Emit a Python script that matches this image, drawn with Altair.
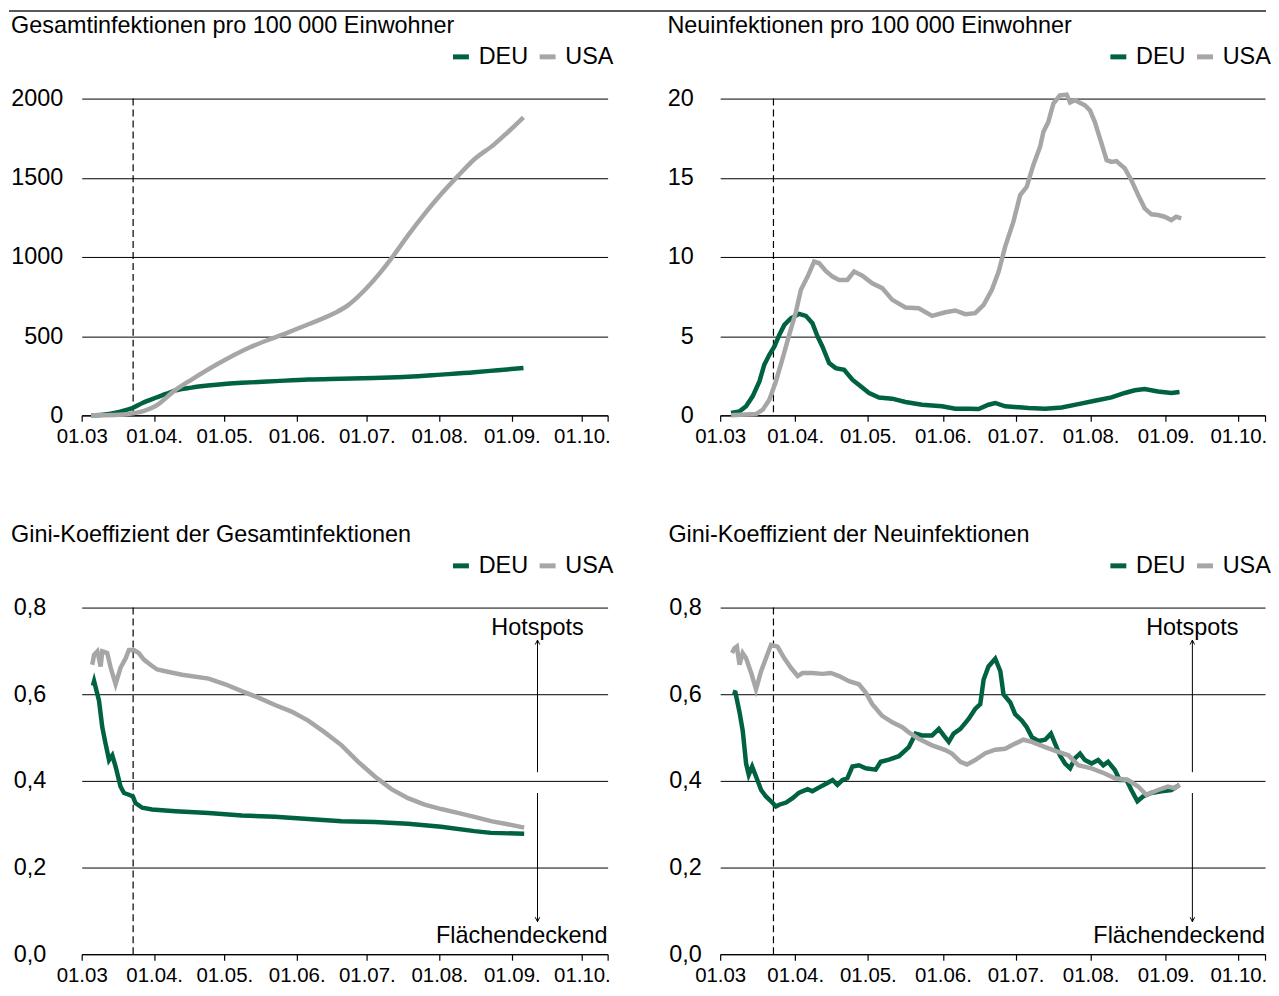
import altair as alt
import pandas as pd

START = pd.Timestamp("2020-03-01")
X_DOMAIN = ["2020-03-01", "2020-10-12"]
LOCKDOWN = ["2020-03-23"]

x_tick_dates = ["2020-03-01", "2020-04-01", "2020-05-01", "2020-06-01", "2020-07-01",
                "2020-08-01", "2020-09-01", "2020-10-01", "2020-10-12"]
x_tick_labels = ["01.03", "01.04.", "01.05.", "01.06.", "01.07.", "01.08.", "01.09.", "01.10.", ""]

countries = ["DEU", "USA"]
colors = ["#00623F", "#A6A6A6"]

titles = ["Gesamtinfektionen pro 100 000 Einwohner", "Neuinfektionen pro 100 000 Einwohner",
          "Gini-Koeffizient der Gesamtinfektionen", "Gini-Koeffizient der Neuinfektionen"]

y_ticks_total = [0, 500, 1000, 1500, 2000]
y_ticks_new = [0, 5, 10, 15, 20]
y_ticks_gini = [0.0, 0.2, 0.4, 0.6, 0.8]

# days after 01.03.2020
deu_total_day = [4, 9, 14.5, 18, 22, 26, 31.6, 36, 40, 47, 54, 61, 68.5, 83, 97, 111, 125, 139.6, 153.8, 168, 178, 189]
deu_total = [0, 4, 17, 30, 48, 78, 111, 135, 157, 175, 188, 198, 205, 216, 226, 231, 236, 243, 257, 272, 285, 299]
usa_total_day = [4, 14, 22, 27, 31.6, 40, 47, 61.4, 71.3, 85.6, 97, 108, 114, 121, 128, 134, 139.6, 146.7, 153.8, 161, 168, 176.5, 182, 189]
usa_total = [0, 2, 13, 30, 59, 159, 226, 351, 425, 508, 575, 644, 696, 790, 906, 1021, 1136, 1272, 1397, 1512, 1617, 1711, 1784, 1882]

deu_new_day = [4.5, 8, 10.7, 13.4, 16.2, 18.2, 20.3, 22.4, 24.4, 26.5, 29.2, 32.6, 35.4, 38.1, 40.2, 42.2, 45, 47.7,
               51.2, 54.6, 58, 61.5, 65.6, 71, 76.5, 83.4, 91.6, 97.1, 102.6, 106.7, 110.8, 113.6, 117.7, 127.3,
               134.2, 141, 147.9, 154.7, 161.6, 167.1, 171.2, 175.3, 180.8, 186.3, 189.7]
deu_new = [0.15, 0.25, 0.57, 1.2, 2.14, 3.19, 3.82, 4.35, 5.08, 5.71, 6.13, 6.41, 6.28, 5.82, 4.98, 4.35, 3.3, 2.98,
           2.88, 2.25, 1.83, 1.41, 1.13, 1.05, 0.84, 0.67, 0.57, 0.42, 0.42, 0.40, 0.67, 0.78, 0.57, 0.46,
           0.42, 0.50, 0.71, 0.92, 1.13, 1.41, 1.58, 1.66, 1.51, 1.41, 1.47]
usa_new_day = [4.5, 14.8, 17.6, 20.3, 23, 25.8, 28.5, 31.3, 33.3, 36.1, 38.8, 40.9, 43.6, 46.4, 49.1, 52.5, 55.3,
               58.7, 62.8, 66.9, 71.1, 76.5, 82, 87.5, 93, 97.1, 101.2, 105.3, 108.8, 112.2, 115, 117.7, 121.1,
               123.9, 126.6, 129.3, 132.1, 133.5, 135.5, 137.6, 140.3, 143.1, 144.5, 146.5, 150.6, 152.7, 154.7,
               157.5, 159.6, 161.6, 163.6, 167.1, 169.8, 172.6, 175.3, 178.1, 180.8, 183.5, 186.3, 188.3, 190.4]
usa_new = [0, 0.08, 0.36, 0.99, 2.14, 3.61, 5.08, 6.55, 7.92, 8.76, 9.71, 9.6, 9.12, 8.76, 8.55, 8.55, 9.08,
           8.82, 8.34, 8.03, 7.29, 6.81, 6.76, 6.28, 6.51, 6.62, 6.39, 6.45, 6.97, 7.92, 9.08, 10.65, 12.23,
           13.91, 14.43, 15.8, 16.95, 17.9, 18.53, 19.68, 20.2, 20.25, 19.75, 19.9, 19.58, 19.26, 18.53,
           17.16, 16.11, 16.0, 16.05, 15.59, 14.85, 13.91, 13.07, 12.69, 12.65, 12.54, 12.33, 12.54, 12.44]

deu_gini_total_day = [4.8, 5.3, 7.4, 8.8, 10.2, 11.7, 13.1, 14.5, 16.6, 18.1, 20.2, 21.9, 23, 25.9, 30.1, 40.1,
                      54.3, 68.5, 82.7, 96.9, 111.2, 125.4, 139.6, 153.8, 168, 175.1, 189.3]
deu_gini_total = [0.62, 0.63, 0.585, 0.524, 0.486, 0.448, 0.459, 0.433, 0.387, 0.372, 0.368, 0.364, 0.349, 0.338,
                  0.334, 0.330, 0.326, 0.320, 0.317, 0.312, 0.307, 0.305, 0.301, 0.294, 0.284, 0.280, 0.278]
usa_gini_total_day = [4.5, 5.3, 6.7, 8.1, 8.8, 10.9, 12.4, 14.5, 16.6, 18.8, 20.2, 22.3, 24.4, 26.6, 29.4, 32.3,
                      35.8, 42.9, 54.3, 61.4, 68.5, 75.6, 82.7, 89.8, 96.9, 104, 111.2, 118.3, 125.4, 132.5,
                      139.6, 146.7, 153.8, 160.9, 168, 175.1, 182.2, 189.3]
usa_gini_total = [0.668, 0.691, 0.699, 0.664, 0.699, 0.695, 0.661, 0.623, 0.661, 0.683, 0.702, 0.702, 0.695,
                  0.680, 0.668, 0.657, 0.653, 0.645, 0.636, 0.623, 0.607, 0.592, 0.575, 0.560, 0.539, 0.512,
                  0.482, 0.444, 0.410, 0.381, 0.360, 0.345, 0.335, 0.326, 0.317, 0.307, 0.300, 0.292]

deu_gini_new_day = [5.2, 6.3, 8, 9.3, 10.7, 11.8, 13.2, 14.8, 16.9, 18.9, 21.7, 23, 24.4, 27.2, 29.9, 32.6, 36.1,
                    38.1, 40.9, 44.3, 46.4, 48.4, 50.5, 52.5, 54.6, 57.3, 60.1, 64.2, 66.3, 69.7, 73.8, 77.9,
                    80.7, 83.4, 87.5, 90.3, 92.3, 94.4, 96.4, 99.2, 102.6, 105.3, 107.4, 108.8, 110.8, 113.6,
                    115.7, 117, 119.8, 121.8, 124.6, 126.6, 128.7, 131.4, 134.2, 136.6, 138.3, 140.3, 142.4,
                    144.5, 146.5, 148.6, 150.6, 153.4, 156.1, 158.2, 160.2, 163, 165, 167.8, 169.8, 172.3,
                    174.6, 178, 182.2, 186.3, 189.7]
deu_gini_new = [0.606, 0.604, 0.558, 0.516, 0.440, 0.414, 0.433, 0.410, 0.379, 0.364, 0.349, 0.341, 0.345,
                0.350, 0.360, 0.373, 0.381, 0.376, 0.385, 0.395, 0.402, 0.391, 0.402, 0.406, 0.433, 0.436,
                0.429, 0.426, 0.444, 0.449, 0.457, 0.478, 0.509, 0.505, 0.505, 0.520, 0.505, 0.490, 0.509,
                0.520, 0.543, 0.566, 0.577, 0.634, 0.664, 0.682, 0.653, 0.600, 0.581, 0.554, 0.539, 0.524,
                0.501, 0.492, 0.495, 0.509, 0.486, 0.459, 0.440, 0.429, 0.452, 0.463, 0.448, 0.440, 0.448,
                0.436, 0.444, 0.425, 0.402, 0.402, 0.379, 0.353, 0.364, 0.372, 0.376, 0.379, 0.391]
usa_gini_new_day = [4.9, 5.9, 6.9, 8, 9.3, 10.7, 12.8, 14.8, 16.9, 18.9, 21, 23.7, 26.5, 29.2, 32, 34, 38.1,
                    42.2, 45.7, 49.1, 53.2, 57.3, 60.1, 62.8, 66.9, 71.1, 75.2, 77.9, 82, 87.5, 93, 95.7, 99.2,
                    101.9, 105.3, 109.5, 113.6, 117.7, 121.8, 125.2, 128.7, 134.2, 139.6, 143.8, 147.9, 153.4,
                    158.8, 163, 168.4, 172.6, 176, 180.8, 184.9, 187.7, 189.7]
usa_gini_new = [0.695, 0.706, 0.710, 0.668, 0.695, 0.683, 0.649, 0.611, 0.653, 0.683, 0.714, 0.710, 0.683,
                0.661, 0.642, 0.649, 0.649, 0.647, 0.649, 0.642, 0.630, 0.623, 0.604, 0.577, 0.550, 0.535,
                0.524, 0.512, 0.497, 0.482, 0.471, 0.463, 0.444, 0.438, 0.448, 0.464, 0.472, 0.474, 0.486,
                0.495, 0.490, 0.478, 0.467, 0.459, 0.436, 0.429, 0.417, 0.406, 0.402, 0.387, 0.368, 0.379,
                0.387, 0.383, 0.391]

arrow_date = "2020-09-12"
arrow_up = [0.42, 0.725]
arrow_down = [0.372, 0.075]
label_hot = ["Hotspots", 0.753]
label_flat = ["Flächendeckend", 0.043]

FONT = "Liberation Sans"
FS = 23.5


def series(day_list, vals, country):
    return pd.DataFrame({"date": START + pd.to_timedelta(day_list, unit="D"),
                         "value": vals, "country": country})


def dt(s):
    t = pd.Timestamp(s)
    return alt.DateTime(year=t.year, month=t.month, date=t.day)


x_label_expr = "[" + ",".join("'%s'" % l for l in x_tick_labels) + "][indexof([" + \
    ",".join("'%s'" % d for d in x_tick_dates) + "], timeFormat(datum.value, '%Y-%m-%d'))]"


def make_x():
    return alt.X("date:T",
                 scale=alt.Scale(domain=[dt(X_DOMAIN[0]), dt(X_DOMAIN[1])]),
                 axis=alt.Axis(values=[dt(d) for d in x_tick_dates], labelExpr=x_label_expr,
                               title=None, grid=False, domainColor="black", domainWidth=1.2,
                               tickColor="black", tickWidth=1.2, tickSize=6, labelPadding=5,
                               labelFontSize=20.5, labelColor="black", labelAngle=0,
                               labelOverlap=False, labelFlush=False, labelFont=FONT))


def make_y(dom, ticks, pad, expr):
    return alt.Y("value:Q", scale=alt.Scale(domain=dom, nice=False, zero=True),
                 axis=alt.Axis(values=ticks, labelExpr=expr, title=None, grid=True,
                               gridColor="black", gridWidth=1, domain=False, ticks=False,
                               labelPadding=pad, labelFontSize=FS, labelColor="black",
                               labelFont=FONT))


def panel(df, dom, ticks, pad, expr, title, title_x, legend_x, width, height,
          interp="linear", top_rule=False, arrows=False):
    xe = make_x()
    ye = make_y(dom, ticks, pad, expr)
    layers = []
    if top_rule:
        layers.append(alt.Chart(pd.DataFrame({"k": [0]})).mark_rule(color="#595959", strokeWidth=2)
                      .encode(x=alt.value(-73), x2=alt.value(1189), y=alt.value(-88)))
    layers.append(alt.Chart(pd.DataFrame({"date": pd.to_datetime(LOCKDOWN)}))
                  .mark_rule(color="black", strokeWidth=1.2, strokeDash=[7, 4]).encode(x=xe))
    layers.append(alt.Chart(df).mark_line(strokeWidth=4.5, interpolate=interp).encode(
        x=xe, y=ye,
        color=alt.Color("country:N", scale=alt.Scale(domain=countries, range=colors),
                        legend=alt.Legend(orient="none", legendX=legend_x, legendY=-54,
                                          direction="horizontal", title=None, symbolType="stroke",
                                          symbolStrokeWidth=5, symbolSize=256, labelFontSize=FS,
                                          labelColor="black", labelFont=FONT, columnPadding=0,
                                          labelOffset=6, padding=0))))
    layers.append(alt.Chart(pd.DataFrame({"t": [title]})).mark_text(
        align="left", baseline="alphabetic", fontSize=FS, color="black", font=FONT)
        .encode(x=alt.value(title_x), y=alt.value(-66), text="t:N"))
    if arrows:
        adf = pd.DataFrame({"date": pd.to_datetime([arrow_date, arrow_date]),
                            "value": [arrow_up[0], arrow_down[0]],
                            "value2": [arrow_up[1], arrow_down[1]]})
        layers.append(alt.Chart(adf).mark_rule(color="black", strokeWidth=1)
                      .encode(x=xe, y=ye, y2="value2:Q"))
        layers.append(alt.Chart(pd.DataFrame({"date": pd.to_datetime([arrow_date]), "value": [arrow_up[1]]}))
                      .mark_point(shape="M-0.45,0.9L0,0L0.45,0.9", size=100, filled=False,
                                  color="black", strokeWidth=1, opacity=1)
                      .encode(x=xe, y=ye))
        layers.append(alt.Chart(pd.DataFrame({"date": pd.to_datetime([arrow_date]), "value": [arrow_down[1]]}))
                      .mark_point(shape="M-0.45,-0.9L0,0L0.45,-0.9", size=100, filled=False,
                                  color="black", strokeWidth=1, opacity=1)
                      .encode(x=xe, y=ye))
        layers.append(alt.Chart(pd.DataFrame({"date": pd.to_datetime([arrow_date]), "value": [label_hot[1]],
                                              "t": [label_hot[0]]}))
                      .mark_text(align="center", baseline="middle", fontSize=FS, color="black", font=FONT)
                      .encode(x=xe, y=ye, text="t:N"))
        layers.append(alt.Chart(pd.DataFrame({"date": pd.to_datetime([X_DOMAIN[1]]), "value": [label_flat[1]],
                                              "t": [label_flat[0]]}))
                      .mark_text(align="right", baseline="middle", fontSize=FS, color="black", font=FONT)
                      .encode(x=xe, y=ye, text="t:N"))
    return alt.layer(*layers).properties(width=width, height=height)


df_total = pd.concat([series(deu_total_day, deu_total, "DEU"), series(usa_total_day, usa_total, "USA")])
df_new = pd.concat([series(deu_new_day, deu_new, "DEU"), series(usa_new_day, usa_new, "USA")])
df_gt = pd.concat([series(deu_gini_total_day, deu_gini_total, "DEU"),
                   series(usa_gini_total_day, usa_gini_total, "USA")])
df_gn = pd.concat([series(deu_gini_new_day, deu_gini_new, "DEU"),
                   series(usa_gini_new_day, usa_gini_new, "USA")])

int_expr = "format(datum.value, 'd')"
gini_expr = "replace(format(datum.value, '.1f'), '.', ',')"

p1 = panel(df_total, [0, 2000], y_ticks_total, 19, int_expr, titles[0], -71, 369, 528, 318,
           interp="monotone", top_rule=True)
p2 = panel(df_new, [0, 20], y_ticks_new, 27, int_expr, titles[1], -53, 388, 547, 318)
p3 = panel(df_gt, [0, 0.8], y_ticks_gini, 36, gini_expr, titles[2], -71, 369, 528, 348, arrows=True)
p4 = panel(df_gn, [0, 0.8], y_ticks_gini, 19, gini_expr, titles[3], -52, 388, 547, 348, arrows=True)

chart = alt.concat(p1, p2, p3, p4, columns=2, spacing={"row": 193, "column": 113},
                   bounds="flush", align="each").resolve_scale(
    x="independent", y="independent", color="independent").resolve_legend(
    color="independent").properties(padding=0).configure(
    font=FONT, background="white").configure_view(stroke=None)

chart.save("out.html", embed_options={"renderer": "svg", "actions": False})
